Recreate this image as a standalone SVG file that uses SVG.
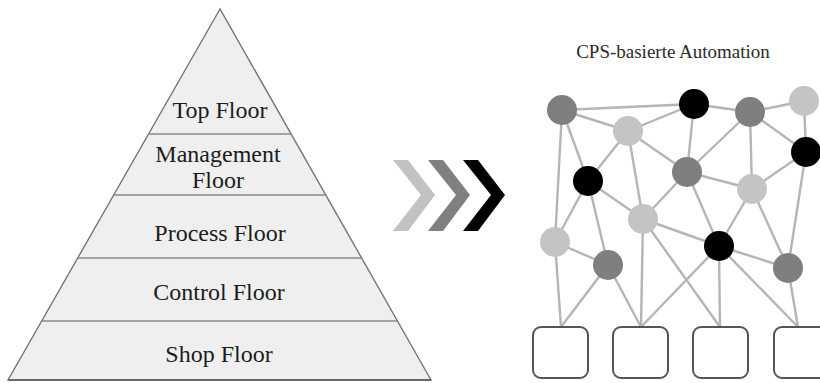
<svg xmlns="http://www.w3.org/2000/svg" width="820" height="383" viewBox="0 0 820 383">
  <style>
    .floor-label { font-family: "Liberation Serif", "Times New Roman", serif; font-size: 24px; fill: #1c1c1c; text-anchor: middle; }
    .title { font-family: "Liberation Serif", "Times New Roman", serif; font-size: 19px; fill: #2a2a2a; text-anchor: middle; }
    .divider { stroke: #8a8a8a; stroke-width: 1.4; }
    .edge { stroke: #b5b5b5; stroke-width: 2.4; fill: none; }
    .n-dark { fill: #000000; }
    .n-mid { fill: #7f7f7f; }
    .n-light { fill: #c4c4c4; }
    .field { fill: #ffffff; stroke: #555555; stroke-width: 2; }
  </style>
  <rect width="820" height="383" fill="#ffffff"/>

  <!-- Automation pyramid -->
  <g id="pyramid">
    <polygon points="220,9 8,380 431,380" fill="#efefef" stroke="#767676" stroke-width="1.4"/>
    <line class="divider" x1="149" y1="134" x2="291" y2="134"/>
    <line class="divider" x1="114" y1="195" x2="326" y2="195"/>
    <line class="divider" x1="78" y1="258" x2="361" y2="258"/>
    <line class="divider" x1="42" y1="321" x2="397" y2="321"/>
    <line x1="8" y1="380" x2="431" y2="380" stroke="#6a6a6a" stroke-width="1.8"/>
  </g>
  <g id="top-floor"><text class="floor-label" x="220" y="118">Top Floor</text></g>
  <g id="management-floor">
    <text class="floor-label" x="218" y="162">Management</text>
    <text class="floor-label" x="218" y="188">Floor</text>
  </g>
  <g id="process-floor"><text class="floor-label" x="220" y="241">Process Floor</text></g>
  <g id="control-floor"><text class="floor-label" x="219" y="300">Control Floor</text></g>
  <g id="shop-floor"><text class="floor-label" x="219" y="362">Shop Floor</text></g>

  <!-- Transition chevrons -->
  <g id="chevrons">
    <polygon points="393,160 408,160 435,195 408,231 393,231 421,195" fill="#c2c2c2"/>
    <polygon points="428,160 443,160 470,195 443,231 428,231 456,195" fill="#808080"/>
    <polygon points="463,160 478,160 505,195 478,231 463,231 491,195" fill="#000000"/>
  </g>

  <g id="title"><text class="title" x="673" y="58">CPS-basierte Automation</text></g>

  <!-- Network links -->
  <g id="connectors">
    <line class="edge" x1="562" y1="110" x2="694" y2="104"/>
    <line class="edge" x1="562" y1="110" x2="628" y2="131"/>
    <line class="edge" x1="562" y1="110" x2="588" y2="181"/>
    <line class="edge" x1="562" y1="110" x2="555" y2="242"/>
    <line class="edge" x1="628" y1="131" x2="694" y2="104"/>
    <line class="edge" x1="628" y1="131" x2="588" y2="181"/>
    <line class="edge" x1="628" y1="131" x2="687" y2="172"/>
    <line class="edge" x1="628" y1="131" x2="643" y2="219"/>
    <line class="edge" x1="694" y1="104" x2="687" y2="172"/>
    <line class="edge" x1="694" y1="104" x2="750" y2="112"/>
    <line class="edge" x1="750" y1="112" x2="804" y2="101"/>
    <line class="edge" x1="750" y1="112" x2="687" y2="172"/>
    <line class="edge" x1="750" y1="112" x2="806" y2="152"/>
    <line class="edge" x1="750" y1="112" x2="752" y2="189"/>
    <line class="edge" x1="804" y1="101" x2="806" y2="152"/>
    <line class="edge" x1="806" y1="152" x2="752" y2="189"/>
    <line class="edge" x1="806" y1="152" x2="788" y2="268"/>
    <line class="edge" x1="687" y1="172" x2="752" y2="189"/>
    <line class="edge" x1="687" y1="172" x2="643" y2="219"/>
    <line class="edge" x1="687" y1="172" x2="719" y2="246"/>
    <line class="edge" x1="588" y1="181" x2="643" y2="219"/>
    <line class="edge" x1="588" y1="181" x2="555" y2="242"/>
    <line class="edge" x1="588" y1="181" x2="608" y2="265"/>
    <line class="edge" x1="752" y1="189" x2="719" y2="246"/>
    <line class="edge" x1="752" y1="189" x2="788" y2="268"/>
    <line class="edge" x1="555" y1="242" x2="608" y2="265"/>
    <line class="edge" x1="643" y1="219" x2="719" y2="246"/>
    <line class="edge" x1="719" y1="246" x2="788" y2="268"/>
    <line class="edge" x1="555" y1="242" x2="561" y2="327"/>
    <line class="edge" x1="608" y1="265" x2="561" y2="327"/>
    <line class="edge" x1="608" y1="265" x2="641" y2="327"/>
    <line class="edge" x1="643" y1="219" x2="641" y2="327"/>
    <line class="edge" x1="643" y1="219" x2="720" y2="327"/>
    <line class="edge" x1="719" y1="246" x2="641" y2="327"/>
    <line class="edge" x1="719" y1="246" x2="720" y2="327"/>
    <line class="edge" x1="719" y1="246" x2="798" y2="327"/>
    <line class="edge" x1="788" y1="268" x2="798" y2="327"/>
  </g>

  <!-- Network nodes -->
  <g id="node-1"><circle class="n-mid" cx="562" cy="110" r="15"/></g>
  <g id="node-2"><circle class="n-dark" cx="694" cy="104" r="15"/></g>
  <g id="node-3"><circle class="n-mid" cx="750" cy="112" r="15"/></g>
  <g id="node-4"><circle class="n-light" cx="804" cy="101" r="15"/></g>
  <g id="node-5"><circle class="n-light" cx="628" cy="131" r="15"/></g>
  <g id="node-6"><circle class="n-dark" cx="806" cy="152" r="15"/></g>
  <g id="node-7"><circle class="n-dark" cx="588" cy="181" r="15"/></g>
  <g id="node-8"><circle class="n-mid" cx="687" cy="172" r="15"/></g>
  <g id="node-9"><circle class="n-light" cx="752" cy="189" r="15"/></g>
  <g id="node-10"><circle class="n-light" cx="643" cy="219" r="15"/></g>
  <g id="node-11"><circle class="n-light" cx="555" cy="242" r="15"/></g>
  <g id="node-12"><circle class="n-mid" cx="608" cy="265" r="15"/></g>
  <g id="node-13"><circle class="n-dark" cx="719" cy="246" r="15"/></g>
  <g id="node-14"><circle class="n-mid" cx="788" cy="268" r="15"/></g>

  <!-- Field devices -->
  <g id="device-1"><rect class="field" x="533" y="327" width="55" height="51" rx="8"/></g>
  <g id="device-2"><rect class="field" x="613" y="327" width="55" height="51" rx="8"/></g>
  <g id="device-3"><rect class="field" x="693" y="327" width="55" height="51" rx="8"/></g>
  <g id="device-4"><rect class="field" x="774" y="327" width="55" height="51" rx="8"/></g>
</svg>
